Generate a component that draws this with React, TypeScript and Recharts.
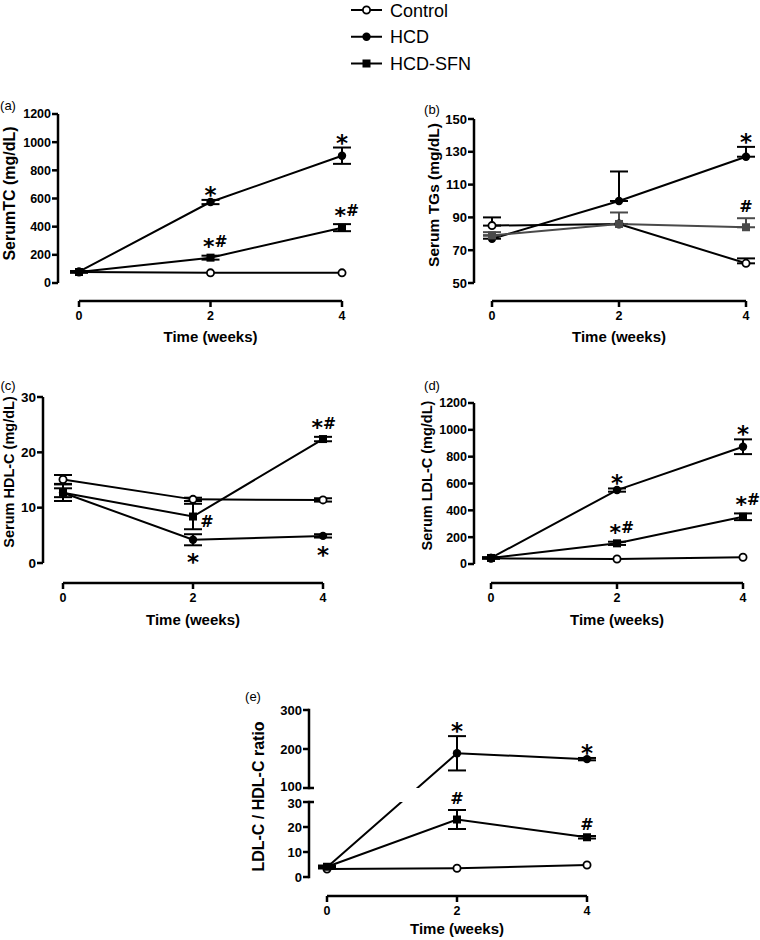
import React from "react";
import {
  LineChart,
  Line,
  XAxis,
  YAxis,
  ErrorBar,
  ReferenceDot,
  ReferenceArea,
} from "recharts";

const FONT = '"Liberation Sans", Arial, Helvetica, sans-serif';
const MARK_FONT = '"DejaVu Sans", sans-serif';

const weeks = [0, 2, 4];
const weekTicks = [0, 2, 4];
const groupNames = ["Control", "HCD", "HCD-SFN"];

// (a) serum total cholesterol, mg/dL
const tcTicks = [0, 200, 400, 600, 800, 1000, 1200];
const tcControl = [78, 72, 72];
const tcHcd = [80, 575, 904];
const tcHcdErr = [[5, 5], [15, 15], [58, 58]];
const tcSfn = [78, 180, 393];
const tcSfnErr = [[5, 5], [14, 14], [25, 25]];
const tcHcdSig = ["", "*", "*"];
const tcSfnSig = ["", "*#", "*#"];

// (b) serum triglycerides, mg/dL (upper bars only)
const tgTicks = [50, 70, 90, 110, 130, 150];
const tgControl = [85, 86, 62];
const tgControlErr = [[0, 5], null, [0, 3]];
const tgHcd = [77, 100, 127];
const tgHcdErr = [[0, 2], [0, 18], [0, 6]];
const tgSfn = [79, 86, 84];
const tgSfnErr = [[0, 2], [0, 7], [0, 5.5]];
const tgHcdSig = ["", "", "*"];
const tgSfnSig = ["", "", "#"];

// (c) serum HDL-C, mg/dL
const hdlTicks = [0, 10, 20, 30];
const hdlControl = [15.1, 11.5, 11.4];
const hdlControlErr = [[0.8, 0.8], [0.3, 0.3], [0.3, 0.3]];
const hdlHcd = [12.7, 4.2, 4.9];
const hdlHcdErr = [[0.8, 0.8], [1, 1], [0.3, 0.3]];
const hdlSfn = [12.7, 8.4, 22.4];
const hdlSfnErr = [[1.5, 1.5], [2.3, 2.3], [0.4, 0.4]];
const hdlHcdSig = ["", "*", "*"];
const hdlSfnSig = ["", "#", "*#"];

// (d) serum LDL-C, mg/dL
const ldlTicks = [0, 200, 400, 600, 800, 1000, 1200];
const ldlControl = [42, 37, 50];
const ldlHcd = [45, 551, 874];
const ldlHcdErr = [[5, 5], [12, 12], [55, 55]];
const ldlSfn = [45, 154, 352];
const ldlSfnErr = [[5, 5], [12, 12], [25, 25]];
const ldlHcdSig = ["", "*", "*"];
const ldlSfnSig = ["", "*#", "*#"];

// (e) LDL-C / HDL-C ratio, broken axis 30..100
const ratioTicks = [0, 10, 20, 30, 100, 200, 300];
const ratioBreak = [30, 100];
const ratioControl = [3.2, 3.5, 4.8];
const ratioHcd = [3.9, 189, 174];
const ratioHcdErr = [[0.5, 0.5], [44, 44], [3, 3]];
const ratioSfn = [4.1, 23, 15.9];
const ratioSfnErr = [[0.5, 0.5], [3.8, 3.8], [0.5, 0.5]];
const ratioHcdSig = ["", "*", "*"];
const ratioSfnSig = ["", "#", "#"];

// piecewise scale for the broken y axis (lower part, gap, upper part)
function brokenScale(lowShare: number, gapShare: number) {
  let dom = [0, 300];
  let rng = [1, 0];
  const s: any = (v: number) => {
    const [b0, b1] = ratioBreak;
    let t;
    if (v <= b0) t = ((v - dom[0]) / (b0 - dom[0])) * lowShare;
    else if (v >= b1)
      t = lowShare + gapShare + ((v - b1) / (dom[1] - b1)) * (1 - lowShare - gapShare);
    else t = lowShare + ((v - b0) / (b1 - b0)) * gapShare;
    return rng[0] + t * (rng[1] - rng[0]);
  };
  s.domain = (d?: number[]) => (d ? ((dom = d), s) : dom);
  s.range = (r?: number[]) => (r ? ((rng = r), s) : rng);
  s.copy = () => s;
  s.ticks = () => ratioTicks;
  s.tickFormat = () => (v: number) => String(v);
  return s;
}
const ratioScale = brokenScale(0.449, 0.084);

type Place = "above" | "aboveMid" | "below" | "right";

type PanelDef = {
  tag: string;
  tagAt: [number, number];
  yTitle: string;
  titleX: number;
  titleDy: number;
  titleFont: number;
  box: { left: number; top: number; width: number; height: number };
  plot: { left: number; right: number; top: number; bottom: number };
  axisX: number;
  xLine: number;
  xTitleBase: number;
  yDomain: [number, number];
  yTicks: number[];
  tickFont: number;
  control: number[];
  controlErr?: (number[] | null)[];
  hcd: number[];
  hcdErr: number[][];
  sfn: number[];
  sfnErr: number[][];
  hcdSig: string[];
  sfnSig: string[];
  hcdPlace: Place[];
  sfnPlace: Place[];
  sfnColor: string;
  broken?: boolean;
};

const panels: PanelDef[] = [
  {
    tag: "(a)", tagAt: [8, 105],
    yTitle: "SerumTC (mg/dL)", titleX: 9, titleDy: -5, titleFont: 16,
    box: { left: 0, top: 90, width: 380, height: 270 },
    plot: { left: 79, right: 342, top: 114, bottom: 283 },
    axisX: 58, xLine: 301, xTitleBase: 41,
    yDomain: [0, 1200], yTicks: tcTicks, tickFont: 12.5,
    control: tcControl, hcd: tcHcd, hcdErr: tcHcdErr, sfn: tcSfn, sfnErr: tcSfnErr,
    hcdSig: tcHcdSig, sfnSig: tcSfnSig,
    hcdPlace: ["above", "above", "above"], sfnPlace: ["above", "above", "above"],
    sfnColor: "#000",
  },
  {
    tag: "(b)", tagAt: [432, 109],
    yTitle: "Serum TGs (mg/dL)", titleX: 433, titleDy: -6, titleFont: 15.5,
    box: { left: 380, top: 90, width: 380, height: 270 },
    plot: { left: 492, right: 746, top: 119, bottom: 283 },
    axisX: 474, xLine: 301, xTitleBase: 41,
    yDomain: [50, 150], yTicks: tgTicks, tickFont: 13,
    control: tgControl, controlErr: tgControlErr,
    hcd: tgHcd, hcdErr: tgHcdErr, sfn: tgSfn, sfnErr: tgSfnErr,
    hcdSig: tgHcdSig, sfnSig: tgSfnSig,
    hcdPlace: ["above", "above", "above"], sfnPlace: ["above", "above", "above"],
    sfnColor: "#4a4a4a",
  },
  {
    tag: "(c)", tagAt: [8, 385],
    yTitle: "Serum HDL-C (mg/dL)", titleX: 8.5, titleDy: -8, titleFont: 14.5,
    box: { left: 0, top: 370, width: 380, height: 270 },
    plot: { left: 63, right: 323, top: 397, bottom: 563 },
    axisX: 43, xLine: 583, xTitleBase: 42,
    yDomain: [0, 30], yTicks: hdlTicks, tickFont: 13.5,
    control: hdlControl, controlErr: hdlControlErr,
    hcd: hdlHcd, hcdErr: hdlHcdErr, sfn: hdlSfn, sfnErr: hdlSfnErr,
    hcdSig: hdlHcdSig, sfnSig: hdlSfnSig,
    hcdPlace: ["below", "below", "below"], sfnPlace: ["above", "right", "aboveMid"],
    sfnColor: "#000",
  },
  {
    tag: "(d)", tagAt: [432, 385],
    yTitle: "Serum LDL-C (mg/dL)", titleX: 427, titleDy: -8, titleFont: 14.5,
    box: { left: 380, top: 370, width: 380, height: 270 },
    plot: { left: 491, right: 743, top: 403, bottom: 564 },
    axisX: 474, xLine: 583, xTitleBase: 42,
    yDomain: [0, 1200], yTicks: ldlTicks, tickFont: 12.5,
    control: ldlControl, hcd: ldlHcd, hcdErr: ldlHcdErr, sfn: ldlSfn, sfnErr: ldlSfnErr,
    hcdSig: ldlHcdSig, sfnSig: ldlSfnSig,
    hcdPlace: ["above", "above", "above"], sfnPlace: ["above", "above", "above"],
    sfnColor: "#000",
  },
  {
    tag: "(e)", tagAt: [253, 696],
    yTitle: "LDL-C / HDL-C ratio", titleX: 258, titleDy: 3, titleFont: 16,
    box: { left: 230, top: 680, width: 400, height: 260 },
    plot: { left: 327, right: 587, top: 710, bottom: 877 },
    axisX: 309, xLine: 896, xTitleBase: 38,
    yDomain: [0, 300], yTicks: ratioTicks, tickFont: 13,
    control: ratioControl, hcd: ratioHcd, hcdErr: ratioHcdErr, sfn: ratioSfn, sfnErr: ratioSfnErr,
    hcdSig: ratioHcdSig, sfnSig: ratioSfnSig,
    hcdPlace: ["above", "above", "above"], sfnPlace: ["above", "above", "above"],
    sfnColor: "#000",
    broken: true,
  },
];

function Marker({ kind, cx, cy, color }: any) {
  if (cx == null || cy == null) return null;
  if (kind === "open")
    return <circle cx={cx} cy={cy} r={3.6} fill="#fff" stroke={color} strokeWidth={1.8} />;
  if (kind === "dot") return <circle cx={cx} cy={cy} r={4.2} fill={color} />;
  return <rect x={cx - 4} y={cy - 4} width={8} height={8} fill={color} />;
}

const markText = { fontWeight: 700, fontFamily: MARK_FONT, fill: "#000" };

// "*" and "#" glyphs, each centred vertically on y
function SigMark({ cx, cy, text, place }: any) {
  if (cx == null || cy == null) return null;
  let x = cx;
  let y = cy;
  if (place === "above" || place === "aboveMid")
    y = cy - (text === "*" ? 10 : text === "#" ? 12 : 14);
  if (place === "aboveMid") x = cx - 4;
  if (place === "below") y = cy + 12;
  if (place === "right") {
    x = cx + 14;
    y = cy + 4;
  }
  if (text === "*#")
    return (
      <text x={x - 7.5} y={y + 12.6} {...markText}>
        <tspan fontSize={22}>*</tspan>
        <tspan fontSize={15.5} y={y + 5.7}>
          #
        </tspan>
      </text>
    );
  if (text === "#")
    return (
      <text x={x} y={y + 6} textAnchor="middle" fontSize={16} {...markText}>
        #
      </text>
    );
  return (
    <text x={x} y={y + 13} textAnchor="middle" fontSize={23} {...markText}>
      *
    </text>
  );
}

function Panel({ def }: { def: PanelDef }) {
  const { box, plot, axisX, xLine } = def;
  const gapX = plot.left - axisX;
  const yWidth = axisX - box.left;
  const gapY = xLine - plot.bottom;
  const xHeight = box.top + box.height - xLine;
  const margin = {
    top: plot.top - box.top,
    right: box.left + box.width - plot.right,
    bottom: 0,
    left: 0,
  };

  const rows = weeks.map((week, i) => ({
    week,
    control: def.control[i],
    controlErr: def.controlErr ? def.controlErr[i] : null,
    hcd: def.hcd[i],
    hcdErr: def.hcdErr[i],
    sfn: def.sfn[i],
    sfnErr: def.sfnErr[i],
  }));

  const axisStyle = { stroke: "#000", strokeWidth: 2.5 };
  const tickStyle = { fill: "#000", fontSize: def.tickFont, fontWeight: 700, fontFamily: FONT };

  const yTitle = () => {
    const cx = def.titleX - box.left;
    const cy = (plot.top + plot.bottom) / 2 - box.top + def.titleDy;
    return (
      <text
        x={cx}
        y={cy}
        transform={`rotate(-90 ${cx} ${cy})`}
        textAnchor="middle"
        dominantBaseline="central"
        fontSize={def.titleFont}
        fontWeight={700}
        fontFamily={FONT}
        fill="#000"
      >
        {def.yTitle}
      </text>
    );
  };

  const xTitle = () => (
    <text
      x={(plot.left + plot.right) / 2 - box.left}
      y={xLine - box.top + def.xTitleBase}
      textAnchor="middle"
      fontSize={15}
      fontWeight={700}
      fontFamily={FONT}
      fill="#000"
    >
      Time (weeks)
    </text>
  );

  const brokenTick = (p: any) => {
    const v = p.payload.value;
    const ax = p.x + 7;
    const y = p.y;
    const seg =
      v === ratioTicks[ratioTicks.length - 1]
        ? [ratioScale(ratioBreak[1]), ratioScale(v)]
        : v === ratioBreak[0]
        ? [ratioScale(0), ratioScale(v)]
        : null;
    const isEnd = v === ratioBreak[0] || v === ratioBreak[1];
    // the two labels at the break sit very close; nudge them apart a little
    const nudge = v === ratioBreak[1] ? -1.5 : v === ratioBreak[0] ? 1.5 : 0;
    return (
      <g key={`bt-${v}`}>
        {seg && (
          <line x1={ax} x2={ax} y1={seg[0]} y2={seg[1]} stroke="#000" strokeWidth={2.5} strokeLinecap="square" />
        )}
        <line x1={ax - 6} x2={isEnd ? ax + 5 : ax} y1={y} y2={y} stroke="#000" strokeWidth={2.5} />
        <text x={p.x} y={y + nudge} dy="0.36em" textAnchor="end" {...tickStyle}>
          {v}
        </text>
      </g>
    );
  };

  const sigDots = (["hcd", "sfn"] as const).flatMap((k) =>
    rows.map((r, i) => {
      const text = k === "hcd" ? def.hcdSig[i] : def.sfnSig[i];
      if (!text) return null;
      const place = k === "hcd" ? def.hcdPlace[i] : def.sfnPlace[i];
      const err = (r as any)[`${k}Err`] || [0, 0];
      const val = (r as any)[k];
      const y = place === "below" ? val - err[0] : place === "right" ? val : val + err[1];
      return (
        <ReferenceDot
          key={`${k}-${i}`}
          xAxisId="main"
          yAxisId="main"
          x={r.week}
          y={y}
          r={1}
          ifOverflow="visible"
          zIndex={2000}
          shape={(p: any) => <SigMark cx={p.cx} cy={p.cy} text={text} place={place} />}
        />
      );
    })
  );

  const markerDot = (kind: string, color: string) => (p: any) =>
    <Marker key={`${kind}-${p.index}`} kind={kind} cx={p.cx} cy={p.cy} color={color} />;

  return (
    <div style={{ position: "absolute", left: box.left, top: box.top }}>
      <LineChart width={box.width} height={box.height} data={rows} margin={margin}>
        <XAxis
          xAxisId="gap"
          dataKey="week"
          type="number"
          domain={[0, 4]}
          height={gapY}
          axisLine={false}
          tickLine={false}
          tick={false}
        />
        <XAxis
          xAxisId="main"
          dataKey="week"
          type="number"
          domain={[0, 4]}
          ticks={weekTicks}
          interval={0}
          height={xHeight}
          axisLine={axisStyle}
          tickLine={axisStyle}
          tickSize={6}
          tickMargin={4}
          tick={{ ...tickStyle, fontSize: 12.5 }}
          label={xTitle}
        />
        <YAxis
          yAxisId="gap"
          type="number"
          domain={def.yDomain}
          width={gapX}
          axisLine={false}
          tickLine={false}
          tick={false}
        />
        <YAxis
          yAxisId="main"
          type="number"
          domain={def.yDomain}
          ticks={def.yTicks}
          interval={0}
          width={yWidth}
          scale={def.broken ? ratioScale : "linear"}
          allowDataOverflow
          axisLine={def.broken ? false : axisStyle}
          tickLine={def.broken ? false : axisStyle}
          tickSize={6}
          tickMargin={1}
          tick={def.broken ? brokenTick : tickStyle}
          label={yTitle}
        />
        <Line
          xAxisId="main"
          yAxisId="main"
          type="linear"
          dataKey="hcd"
          name={groupNames[1]}
          stroke="#000"
          strokeWidth={2}
          dot={markerDot("dot", "#000")}
          activeDot={false}
          isAnimationActive={false}
        >
          <ErrorBar dataKey="hcdErr" width={9} strokeWidth={2} stroke="#000" direction="y" />
        </Line>
        {def.broken && (
          <ReferenceArea
            xAxisId="main"
            yAxisId="main"
            x1={0}
            x2={4}
            y1={ratioBreak[0]}
            y2={ratioBreak[1]}
            fill="#fff"
            fillOpacity={1}
            stroke="none"
            ifOverflow="visible"
            zIndex={450}
          />
        )}
        <Line
          xAxisId="main"
          yAxisId="main"
          type="linear"
          dataKey="control"
          name={groupNames[0]}
          stroke="#000"
          strokeWidth={2}
          dot={markerDot("open", "#000")}
          activeDot={false}
          isAnimationActive={false}
        >
          {def.controlErr && (
            <ErrorBar dataKey="controlErr" width={9} strokeWidth={2} stroke="#000" direction="y" />
          )}
        </Line>
        <Line
          xAxisId="main"
          yAxisId="main"
          type="linear"
          dataKey="sfn"
          name={groupNames[2]}
          stroke={def.sfnColor}
          strokeWidth={2}
          dot={markerDot("square", def.sfnColor)}
          activeDot={false}
          isAnimationActive={false}
        >
          <ErrorBar dataKey="sfnErr" width={9} strokeWidth={2} stroke={def.sfnColor} direction="y" />
        </Line>
        {sigDots}
      </LineChart>
    </div>
  );
}

export default function App() {
  const kinds = ["open", "dot", "square"];
  return (
    <div
      style={{
        position: "absolute",
        left: 0,
        top: 0,
        width: 760,
        height: 940,
        background: "#fff",
        fontFamily: FONT,
      }}
    >
      <svg width={760} height={940} style={{ position: "absolute", left: 0, top: 0 }}>
        {groupNames.map((name, i) => {
          const y = 10 + i * 26.75;
          return (
            <g key={name}>
              <line x1={351} x2={382} y1={y} y2={y} stroke="#000" strokeWidth={2} />
              <Marker kind={kinds[i]} cx={366.5} cy={y} color="#000" />
              <text x={390} y={y + 6.5} fontSize={18} fontFamily={FONT} fill="#000">
                {name}
              </text>
            </g>
          );
        })}
        {panels.map((p) => (
          <text
            key={p.tag}
            x={p.tagAt[0]}
            y={p.tagAt[1] + 4.5}
            textAnchor="middle"
            fontSize={13}
            fontFamily={FONT}
            fill="#000"
          >
            {p.tag}
          </text>
        ))}
      </svg>
      {panels.map((p) => (
        <Panel key={p.tag} def={p} />
      ))}
    </div>
  );
}
